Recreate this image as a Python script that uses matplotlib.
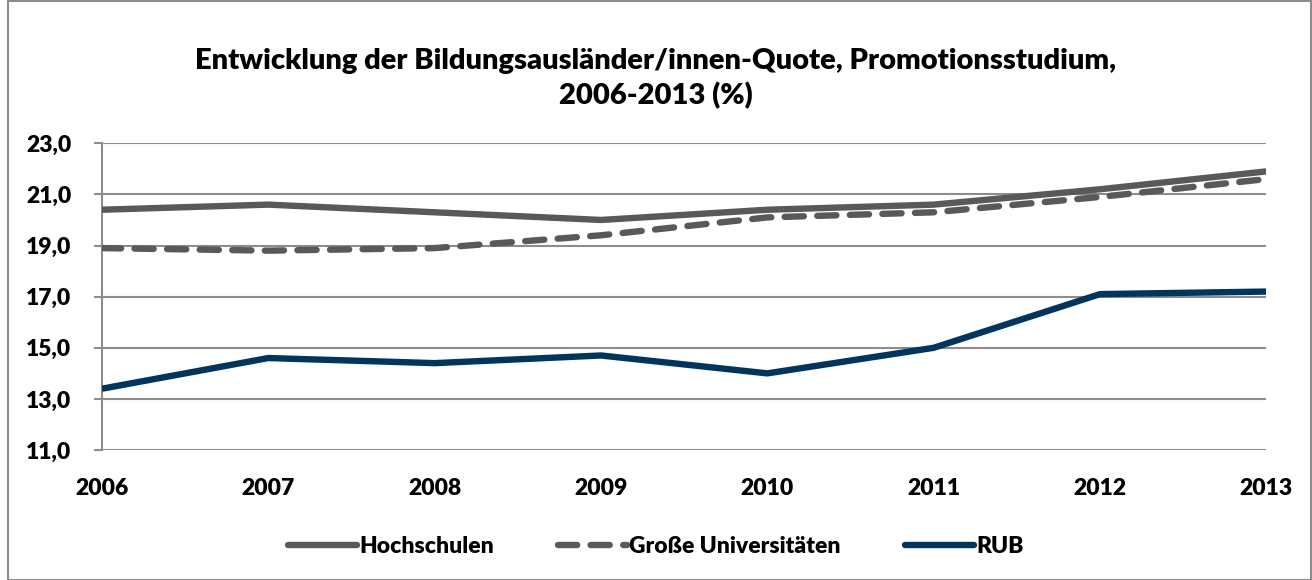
import matplotlib
matplotlib.use('Agg')
import matplotlib.pyplot as plt
from matplotlib.patches import Rectangle

plt.rcParams['font.family'] = ['Lato', 'DejaVu Sans']

years = [2006, 2007, 2008, 2009, 2010, 2011, 2012, 2013]
hochschulen = [20.4, 20.6, 20.3, 20.0, 20.4, 20.6, 21.2, 21.9]
grosse_unis = [18.9, 18.8, 18.9, 19.4, 20.1, 20.3, 20.9, 21.6]
rub = [13.4, 14.6, 14.4, 14.7, 14.0, 15.0, 17.1, 17.2]
yticks = [11, 13, 15, 17, 19, 21, 23]

gray = '#595959'
navy = '#003560'
grid = '#8c8c8c'
weight = 'heavy'

fig = plt.figure(figsize=(13.12, 5.8), dpi=100)
ax = fig.add_axes([0.0777, 0.224, 0.8875, 0.529])

lw = 4.6
ax.plot(years, hochschulen, color=gray, lw=lw, solid_capstyle='butt',
        solid_joinstyle='round', label='Hochschulen', zorder=3)
ax.plot(years, grosse_unis, color=gray, lw=lw, dashes=(3.0, 2.1),
        dash_capstyle='round', label='Große Universitäten', zorder=3)
ax.plot(years, rub, color=navy, lw=lw, solid_capstyle='butt',
        solid_joinstyle='round', label='RUB', zorder=4)

ax.set_xlim(2006, 2013)
ax.set_ylim(11, 23)
ax.set_yticks(yticks)
ax.set_yticklabels([('%.1f' % v).replace('.', ',') for v in yticks])
ax.set_xticks(years)
ax.set_xticklabels([str(y) for y in years])

ax.grid(axis='y', color=grid, lw=1.5)
ax.set_axisbelow(True)
for s in ['top', 'right', 'bottom']:
    ax.spines[s].set_visible(False)
ax.spines['left'].set_color(grid)
ax.spines['left'].set_linewidth(1.5)
ax.tick_params(axis='y', length=6, width=1.5, color=grid, pad=16)
ax.tick_params(axis='x', length=0, pad=20)
for lab in ax.get_xticklabels() + ax.get_yticklabels():
    lab.set_fontsize(16.5)
    lab.set_fontweight(weight)

fig.text(0.5, 0.865, 'Entwicklung der Bildungsausländer/innen-Quote, Promotionsstudium,\n2006-2013 (%)',
         ha='center', va='center', fontsize=21, fontweight=weight, linespacing=1.35)

leg = fig.legend(loc='center', bbox_to_anchor=(0.5, 0.058), ncol=3, frameon=False,
                 prop={'size': 16.5, 'weight': weight}, handlelength=3.0,
                 handletextpad=0.1, columnspacing=2.8)
for h in leg.get_lines():
    h.set_solid_capstyle('round')

fig.patches.append(Rectangle((0.006, 0.0), 0.993, 0.998, transform=fig.transFigure,
                             fill=False, edgecolor=grid, lw=1.5))

fig.savefig('out.png', dpi=100)
